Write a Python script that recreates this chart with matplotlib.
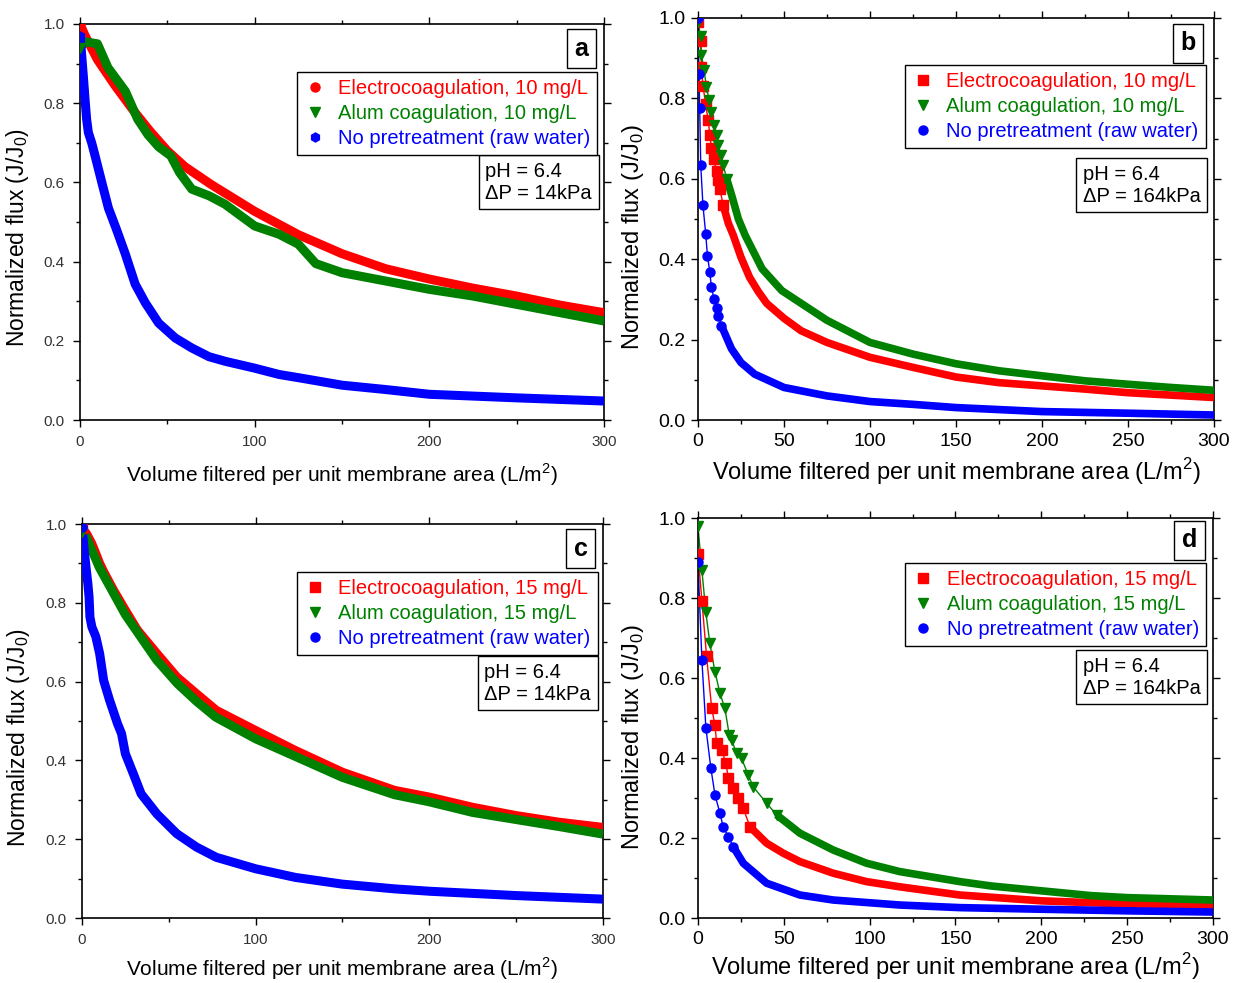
import matplotlib
matplotlib.use("Agg")
import matplotlib.pyplot as plt
from matplotlib.lines import Line2D
from matplotlib.ticker import MultipleLocator

plt.rcParams["font.family"] = ["Liberation Sans", "DejaVu Sans"]

RED, GREEN, BLUE = "#ff0000", "#008000", "#0000ff"

# ---- panel a : 10 mg/L, dP = 14 kPa ----
a_ec_x = [0, 3, 10, 20, 30, 40, 50, 60, 75, 100, 125, 150, 175, 200, 225, 250, 275, 300]
a_ec_y = [1.0, 0.97, 0.91, 0.845, 0.785, 0.73, 0.68, 0.64, 0.595, 0.527, 0.468, 0.42,
          0.382, 0.356, 0.333, 0.313, 0.29, 0.271]
a_alum_x = [0, 3, 10, 16, 26, 33, 39, 45, 52, 57, 64, 74, 83, 100, 114, 125, 135, 150,
            175, 200, 225, 250, 275, 300]
a_alum_y = [0.94, 0.955, 0.95, 0.89, 0.83, 0.76, 0.72, 0.69, 0.667, 0.625, 0.583, 0.566,
            0.545, 0.49, 0.469, 0.444, 0.395, 0.372, 0.351, 0.33, 0.313, 0.292, 0.271, 0.25]
a_raw_x = [0, 1, 1.9, 2.9, 3.8, 4.8, 6.7, 8.6, 12.5, 16.3, 21, 25.9, 31.6, 37.4, 45, 54.6,
           64, 73.8, 83.4, 100, 114, 125, 150, 175, 200, 250, 300]
a_raw_y = [0.97, 0.92, 0.87, 0.81, 0.76, 0.726, 0.70, 0.668, 0.60, 0.535, 0.48, 0.42,
           0.343, 0.296, 0.245, 0.207, 0.182, 0.16, 0.148, 0.131, 0.115, 0.107, 0.088,
           0.077, 0.065, 0.056, 0.048]

# ---- panel b : 10 mg/L, dP = 164 kPa ----
b_ec_x = [0, 1.6, 2, 2.9, 4.5, 5.9, 6.9, 7.8, 9.2, 10.8, 11.8, 12.7, 14.7, 17.6, 20.5,
          25, 30, 35, 40, 50, 60, 75, 100, 125, 150, 175, 200, 225, 250, 275, 300]
b_ec_y = [0.99, 0.942, 0.879, 0.832, 0.785, 0.746, 0.71, 0.677, 0.649, 0.619, 0.596,
          0.575, 0.534, 0.49, 0.46, 0.405, 0.355, 0.32, 0.29, 0.253, 0.222, 0.193,
          0.156, 0.131, 0.107, 0.093, 0.085, 0.077, 0.068, 0.062, 0.056]
b_alum_x = [0, 1.6, 2, 3.5, 4.9, 6.5, 7.8, 9.4, 10.8, 11.8, 13.3, 14.7, 16.7, 19.6,
            23.5, 27.5, 37.3, 48.7, 75, 100, 125, 150, 175, 200, 225, 250, 275, 300]
b_alum_y = [0.99, 0.954, 0.908, 0.871, 0.829, 0.796, 0.767, 0.734, 0.709, 0.684, 0.659,
            0.634, 0.60, 0.559, 0.50, 0.459, 0.376, 0.322, 0.248, 0.193, 0.164, 0.14,
            0.1225, 0.11, 0.0975, 0.089, 0.081, 0.074]
b_raw_x = [0, 0.6, 1, 1.6, 2.9, 4.5, 5.5, 6.9, 7.8, 9.4, 10.8, 11.8, 13.6, 19.5, 25,
           33, 50, 75, 100, 125, 150, 200, 250, 300]
b_raw_y = [1.0, 0.86, 0.777, 0.634, 0.534, 0.463, 0.409, 0.368, 0.33, 0.301, 0.279,
           0.26, 0.235, 0.177, 0.143, 0.114, 0.081, 0.06, 0.046, 0.039, 0.031, 0.021,
           0.017, 0.0125]

# ---- panel c : 15 mg/L, dP = 14 kPa ----
c_ec_x = [0, 2.7, 5.7, 8, 10.2, 12.5, 18.2, 25, 31.9, 43.2, 54.6, 66, 77.4, 100, 123,
          150, 180, 200, 225, 250, 275, 300]
c_ec_y = [0.99, 0.975, 0.95, 0.925, 0.90, 0.879, 0.832, 0.781, 0.731, 0.671, 0.612,
          0.569, 0.527, 0.476, 0.425, 0.37, 0.324, 0.307, 0.281, 0.26, 0.243, 0.23]
c_alum_x = [0, 2.7, 10, 25, 43, 55, 66, 77, 100, 123, 150, 180, 200, 225, 250, 275, 300]
c_alum_y = [0.98, 0.965, 0.89, 0.77, 0.655, 0.595, 0.55, 0.51, 0.455, 0.41, 0.357,
            0.313, 0.295, 0.268, 0.25, 0.232, 0.213]
c_raw_x = [0, 1.1, 2.3, 3.4, 4.1, 4.6, 5.7, 8, 10.2, 12.5, 15.9, 20.5, 22.8, 25, 29.6,
           34.1, 43.2, 54.6, 66, 77.4, 100, 123, 150, 180, 200, 250, 300]
c_raw_y = [0.993, 0.942, 0.892, 0.849, 0.815, 0.764, 0.739, 0.714, 0.671, 0.603, 0.553,
           0.493, 0.468, 0.417, 0.366, 0.315, 0.264, 0.214, 0.18, 0.154, 0.125, 0.103,
           0.086, 0.074, 0.068, 0.057, 0.048]

# ---- panel d : 15 mg/L, dP = 164 kPa ----
d_ec_x = [0, 2.3, 5, 8, 9.9, 10.9, 13.8, 16.3, 17.7, 20.2, 23.5, 26.4, 30.3, 40, 49.7,
          59.4, 78.8, 98.2, 117.6, 152.6, 200, 250, 300]
d_ec_y = [0.91, 0.793, 0.655, 0.524, 0.483, 0.437, 0.42, 0.387, 0.349, 0.324, 0.299,
          0.274, 0.228, 0.187, 0.162, 0.141, 0.112, 0.091, 0.078, 0.0575, 0.043, 0.035,
          0.028]
d_alum_x = [0, 2.3, 4.6, 6.9, 9.9, 12.8, 15.7, 18.2, 19.6, 22.5, 25.4, 29.3, 32.2, 40,
            45.8, 59.4, 78.8, 98.2, 117.6, 152.6, 171, 200, 229, 250, 300]
d_alum_y = [0.98, 0.869, 0.764, 0.687, 0.616, 0.562, 0.524, 0.458, 0.445, 0.412, 0.399,
            0.357, 0.328, 0.287, 0.258, 0.212, 0.17, 0.137, 0.116, 0.091, 0.08, 0.068,
            0.056, 0.051, 0.045]
d_raw_x = [0, 2.3, 4.6, 7.5, 9.9, 12.8, 14.7, 17.7, 20.6, 26.4, 40, 59.4, 78.8, 117.6,
           152.6, 200, 250, 300]
d_raw_y = [0.89, 0.644, 0.476, 0.375, 0.308, 0.262, 0.228, 0.203, 0.178, 0.137, 0.087,
           0.0575, 0.045, 0.0325, 0.026, 0.022, 0.018, 0.015]

labels = ["Electrocoagulation, {} mg/L", "Alum coagulation, {} mg/L",
          "No pretreatment (raw water)"]
colors = [RED, GREEN, BLUE]

XLABEL = "Volume filtered per unit membrane area (L/m$^{\\mathregular{2}}$)"
YLABEL = "Normalized flux (J/J$_{\\mathregular{0}}$)"


def draw_panel(ax, letter, series, markers, dose, dp, big, dense_from, box_pos, lab_pos):
    band = 5.5 if big else 6.5
    for (x, y), col, mk, x0 in zip(series, colors, markers, dense_from):
        # thin fit line, then a thick band where the markers run together,
        # and single markers where they are still apart
        ax.plot(x, y, color=col, lw=1.0, zorder=2)
        xs = [v for v in x if v >= x0]
        ys = [w for v, w in zip(x, y) if v >= x0]
        ax.plot(xs, ys, color=col, lw=band, solid_capstyle="butt", zorder=3)
        xd = [v for v in x if v <= x0]
        yd = [w for v, w in zip(x, y) if v <= x0]
        ax.plot(xd, yd, ls="none", marker=mk, ms=6.5, color=col, mec=col, zorder=4)

    ax.set_xlim(0, 300)
    ax.set_ylim(0, 1.0)
    ax.xaxis.set_major_locator(MultipleLocator(50 if big else 100))
    ax.xaxis.set_minor_locator(MultipleLocator(25 if big else 50))
    ax.yaxis.set_major_locator(MultipleLocator(0.2))
    ax.yaxis.set_minor_locator(MultipleLocator(0.1))
    ax.yaxis.set_major_formatter(plt.FormatStrFormatter("%.1f"))
    ax.tick_params(which="both", direction="out", top=True, right=True, width=1.0)
    ax.tick_params(which="major", length=5)
    ax.tick_params(which="minor", length=3)
    if big:
        ax.tick_params(labelsize=14, pad=4)
    else:
        ax.tick_params(labelsize=11, pad=6, labelcolor="#333333")
    for sp in ax.spines.values():
        sp.set_linewidth(1.2)

    ax.set_xlabel(XLABEL, fontsize=17 if big else 15)
    ax.set_ylabel(YLABEL, fontsize=17 if big else 16.5)
    ax.xaxis.set_label_coords(0.5, lab_pos[0])
    ax.yaxis.set_label_coords(lab_pos[1], lab_pos[2])

    handles = [Line2D([], [], ls="none", marker=mk, ms=6.5, color=c)
               for mk, c in zip(markers, colors)]
    texts = [lab.format(dose) for lab in labels]
    leg = ax.legend(handles, texts, loc="upper right", bbox_to_anchor=box_pos[0],
                    fontsize=14.5, frameon=True, fancybox=False, edgecolor="black",
                    framealpha=1, borderaxespad=0, labelspacing=0.3, borderpad=0.35,
                    handletextpad=0.6, handlelength=1.1)
    leg.get_frame().set_linewidth(1.0)
    for t, c in zip(leg.get_texts(), colors):
        t.set_color(c)

    ax.text(box_pos[1][0], box_pos[1][1], "pH = 6.4\n\u0394P = {}kPa".format(dp),
            transform=ax.transAxes, ha="right", va="top", fontsize=14.5,
            multialignment="left", linespacing=1.2,
            bbox=dict(boxstyle="square,pad=0.33", fc="white", ec="black", lw=1.0))
    ax.text(box_pos[2][0], box_pos[2][1], letter, transform=ax.transAxes,
            ha="center", va="center", fontsize=18, fontweight="bold",
            bbox=dict(boxstyle="square,pad=0.3", fc="white", ec="black", lw=1.0))


fig = plt.figure(figsize=(12.36, 9.83), dpi=100)
ax_a = fig.add_axes([0.0647, 0.5727, 0.4240, 0.4029])
ax_b = fig.add_axes([0.5647, 0.5727, 0.4175, 0.4090])
ax_c = fig.add_axes([0.0663, 0.0661, 0.4215, 0.4008])
ax_d = fig.add_axes([0.5647, 0.0661, 0.4167, 0.4069])

draw_panel(ax_a, "a", [(a_ec_x, a_ec_y), (a_alum_x, a_alum_y), (a_raw_x, a_raw_y)],
           ["o", "v", "h"], 10, 14, False, [0, 0, 0],
           [(0.987, 0.879), (0.977, 0.652), (0.957, 0.938)],
           (-0.105, -0.094, 0.46))
draw_panel(ax_b, "b", [(b_ec_x, b_ec_y), (b_alum_x, b_alum_y), (b_raw_x, b_raw_y)],
           ["s", "v", "o"], 10, 164, True, [14.7, 16.7, 13.6],
           [(0.984, 0.883), (0.974, 0.635), (0.95, 0.937)],
           (-0.09, -0.101, 0.455))
draw_panel(ax_c, "c", [(c_ec_x, c_ec_y), (c_alum_x, c_alum_y), (c_raw_x, c_raw_y)],
           ["s", "v", "o"], 15, 14, False, [0, 0, 0],
           [(0.99, 0.878), (0.977, 0.648), (0.957, 0.937)],
           (-0.096, -0.096, 0.459))
draw_panel(ax_d, "d", [(d_ec_x, d_ec_y), (d_alum_x, d_alum_y), (d_raw_x, d_raw_y)],
           ["s", "v", "o"], 15, 164, True, [30.3, 45.8, 20.6],
           [(0.986, 0.8875), (0.976, 0.653), (0.954, 0.945)],
           (-0.083, -0.101, 0.4525))

fig.savefig("out.png", dpi=100)
